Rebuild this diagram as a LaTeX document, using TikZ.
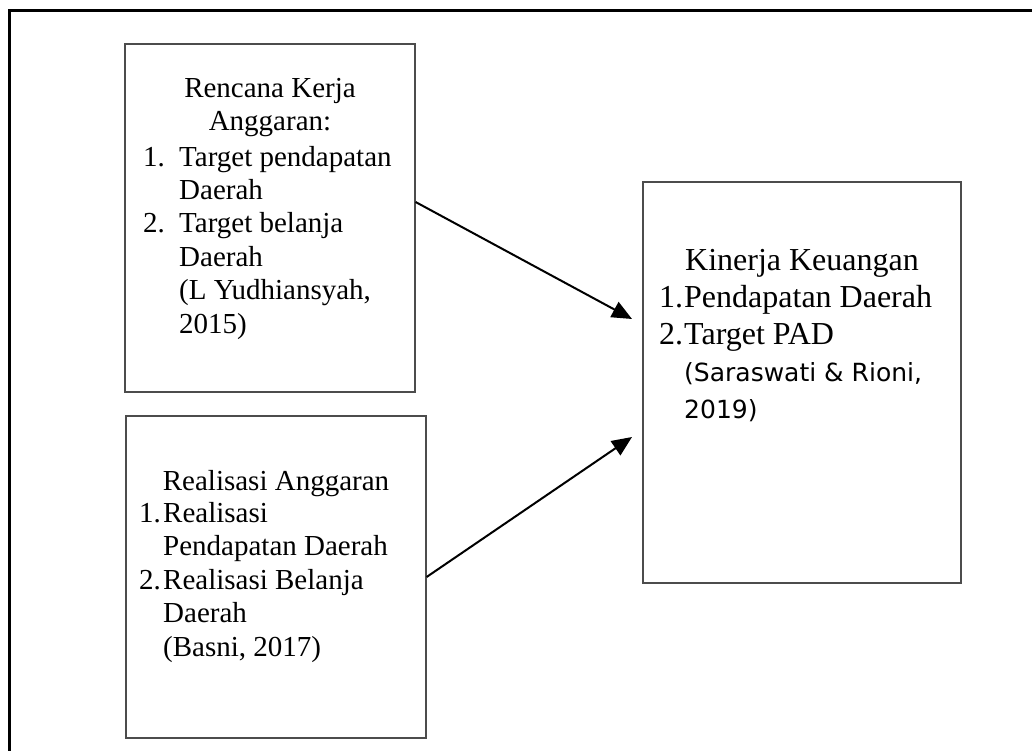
\documentclass[tikz,border=0pt]{standalone}
\usepackage{fontspec}
\setmainfont{Liberation Serif}
\newfontfamily\sansref{DejaVu Sans}
\usetikzlibrary{arrows.meta}

\begin{document}
\begin{tikzpicture}[%
      x=1pt, y=-1pt,
      kotak/.style={draw=black!70, line width=1.2pt, inner sep=0pt},
      isi/.style={inner sep=0pt, align=left, font=\fontsize{29}{33.4}\selectfont},
      judul/.style={inner sep=0pt, align=center, font=\fontsize{29}{33.4}\selectfont},
      isibesar/.style={inner sep=0pt, align=left, font=\fontsize{32}{37}\selectfont},
      panah/.style={line width=2pt, -{Triangle[length=20pt,width=17pt]}},
      ]
      \useasboundingbox (0,0) rectangle (1032,751);
      \draw [line width=3pt] (9,751) -- (9,11) -- (1032,11);

      \node [kotak, minimum width=290pt, minimum height=348pt] (rkab) at (270,218) {};
      \node [kotak, minimum width=300pt, minimum height=322pt] (realisasi) at (276,577) {};
      \node [kotak, minimum width=318pt, minimum height=401pt] (kinerja) at (802,382.5) {};

      % base = baseline of the last line
      \node [judul, anchor=base] (rkabjudul) at (270,131) {Rencana Kerja\\Anggaran:};
      \node [isi, anchor=base west] (rkabisi) at (143,333)
        {\makebox[36pt][l]{1.}Target pendapatan\\
         \hspace*{36pt}Daerah\\
         \makebox[36pt][l]{2.}Target belanja\\
         \hspace*{36pt}Daerah\\
         \hspace*{36pt}(L Yudhiansyah,\\
         \hspace*{36pt}2015)};

      \node [judul, anchor=base] (realisasijudul) at (276,490) {Realisasi Anggaran};
      \node [isi, anchor=base west] (realisasiisi) at (139,656)
        {\makebox[24pt][l]{1.}Realisasi\\
         \hspace*{24pt}Pendapatan Daerah\\
         \makebox[24pt][l]{2.}Realisasi Belanja\\
         \hspace*{24pt}Daerah\\
         \hspace*{24pt}(Basni, 2017)};

      \node [isibesar, anchor=base, align=center] (kinerjajudul) at (802,270) {Kinerja Keuangan};
      \node [isibesar, anchor=base west] (kinerjaisi) at (659,418)
        {\makebox[25pt][l]{1.}Pendapatan Daerah\\
         \makebox[25pt][l]{2.}Target PAD\\
         \hspace*{25pt}{\sansref\fontsize{25}{37}\selectfont (Saraswati \& Rioni,}\\
         \hspace*{25pt}{\sansref\fontsize{25}{37}\selectfont 2019)}};

      \coordinate (ujung1) at (632,319);
      \coordinate (ujung2) at (632,437);
      \draw [panah] ([yshift=16pt]rkab.east) -- (ujung1);
      \draw [panah] (realisasi.east) -- (ujung2);
\end{tikzpicture}
\end{document}
